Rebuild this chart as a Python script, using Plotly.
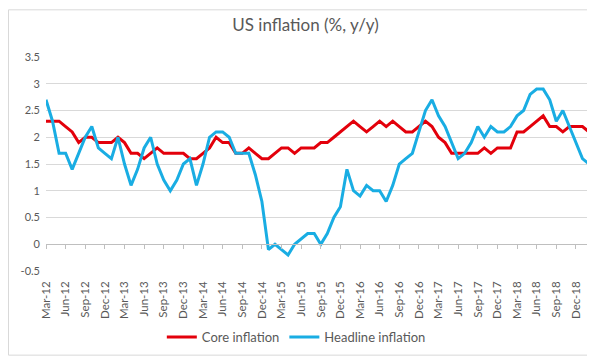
import pandas as pd
import plotly.graph_objects as go

# Categories (monthly, Mar-12 .. Feb-19)
months = pd.date_range("2012-03-01", periods=84, freq="MS").strftime("%b-%y").tolist()

core_inflation = [
    2.3, 2.3, 2.3, 2.2, 2.1, 1.9, 2.0, 2.0, 1.9, 1.9, 1.9, 2.0,
    1.9, 1.7, 1.7, 1.6, 1.7, 1.8, 1.7, 1.7, 1.7, 1.7, 1.6, 1.6,
    1.7, 1.8, 2.0, 1.9, 1.9, 1.7, 1.7, 1.8, 1.7, 1.6, 1.6, 1.7,
    1.8, 1.8, 1.7, 1.8, 1.8, 1.8, 1.9, 1.9, 2.0, 2.1, 2.2, 2.3,
    2.2, 2.1, 2.2, 2.3, 2.2, 2.3, 2.2, 2.1, 2.1, 2.2, 2.3, 2.2,
    2.0, 1.9, 1.7, 1.7, 1.7, 1.7, 1.7, 1.8, 1.7, 1.8, 1.8, 1.8,
    2.1, 2.1, 2.2, 2.3, 2.4, 2.2, 2.2, 2.1, 2.2, 2.2, 2.2, 2.1,
]

headline_inflation = [
    2.7, 2.3, 1.7, 1.7, 1.4, 1.7, 2.0, 2.2, 1.8, 1.7, 1.6, 2.0,
    1.5, 1.1, 1.4, 1.8, 2.0, 1.5, 1.2, 1.0, 1.2, 1.5, 1.6, 1.1,
    1.5, 2.0, 2.1, 2.1, 2.0, 1.7, 1.7, 1.7, 1.3, 0.8, -0.1, 0.0,
    -0.1, -0.2, 0.0, 0.1, 0.2, 0.2, 0.0, 0.2, 0.5, 0.7, 1.4, 1.0,
    0.9, 1.1, 1.0, 1.0, 0.8, 1.1, 1.5, 1.6, 1.7, 2.1, 2.5, 2.7,
    2.4, 2.2, 1.9, 1.6, 1.7, 1.9, 2.2, 2.0, 2.2, 2.1, 2.1, 2.2,
    2.4, 2.5, 2.8, 2.9, 2.9, 2.7, 2.3, 2.5, 2.2, 1.9, 1.6, 1.5,
]

x_tick_labels = months[::3]
y_tick_values = [-0.5, 0, 0.5, 1, 1.5, 2, 2.5, 3, 3.5]
y_tick_labels = ["-0.5", "0", "0.5", "1", "1.5", "2", "2.5", "3", "3.5"]

RED = "#E3000B"
BLUE = "#19ADE3"
TEXT = "#595959"
GRID = "#D9D9D9"
FONT = "Lato, 'Open Sans', sans-serif"

W, H = 595, 356
ML, MR, MT, MB = 38, 14, 49, 87
PW, PH = W - ML - MR, H - MT - MB
Y_MIN, Y_MAX = -0.5, 3.5

fig = go.Figure()
fig.add_trace(go.Scatter(x=months, y=core_inflation, name="Core inflation",
                         mode="lines", line=dict(color=RED, width=3)))
fig.add_trace(go.Scatter(x=months, y=headline_inflation, name="Headline inflation",
                         mode="lines", line=dict(color=BLUE, width=3)))
# invisible helper trace to carry the zero-level category axis
fig.add_trace(go.Scatter(x=months, y=core_inflation, xaxis="x2", mode="lines",
                         line=dict(width=0), opacity=0, showlegend=False,
                         hoverinfo="skip"))

zero_pos = (0 - Y_MIN) / (Y_MAX - Y_MIN)

fig.update_layout(
    width=W, height=H,
    margin=dict(l=ML, r=MR, t=MT, b=MB),
    paper_bgcolor="white", plot_bgcolor="white",
    font=dict(family=FONT, color=TEXT, size=11),
    title=dict(text="US inflation (%, y/y)", x=0.5, xanchor="center",
               y=1 - 17 / H, yanchor="middle",
               font=dict(size=17, color=TEXT, family=FONT)),
    xaxis=dict(type="category", range=[0, len(months) - 1],
               tickmode="array", tickvals=x_tick_labels, ticktext=x_tick_labels,
               tickangle=-90, ticks="", showline=False, showgrid=False,
               zeroline=False, tickfont=dict(size=11.5, color=TEXT),
               ticklabelstandoff=7),
    xaxis2=dict(type="category", range=[0, len(months) - 1], overlaying="x",
                anchor="free", position=zero_pos, side="bottom",
                tickmode="array", tickvals=x_tick_labels, showticklabels=False,
                ticks="outside", ticklen=4, tickcolor="#BFBFBF", tickwidth=1,
                showline=True, linecolor="#BFBFBF", linewidth=1,
                showgrid=False, zeroline=False),
    yaxis=dict(range=[Y_MIN, Y_MAX], tickmode="array", tickvals=y_tick_values,
               ticktext=y_tick_labels, showgrid=True, gridcolor=GRID, gridwidth=1,
               zeroline=False, showline=False, ticks="",
               tickfont=dict(size=11, color=TEXT), ticklabelstandoff=5),
    legend=dict(orientation="h", x=0.461, xanchor="center",
                y=-(337 - (MT + PH)) / PH, yanchor="middle",
                font=dict(size=13, color=TEXT, family=FONT),
                itemwidth=30, bgcolor="rgba(0,0,0,0)"),
    showlegend=True,
    shapes=[dict(type="rect", xref="paper", yref="paper",
                 x0=-(ML - 0.5) / PW, x1=1 + (MR - 0.5) / PW,
                 y0=-(MB - 0.5) / PH, y1=1 + (MT - 0.5) / PH,
                 line=dict(color="#D9D9D9", width=1), layer="below")],
)

fig.write_html("out.html")
